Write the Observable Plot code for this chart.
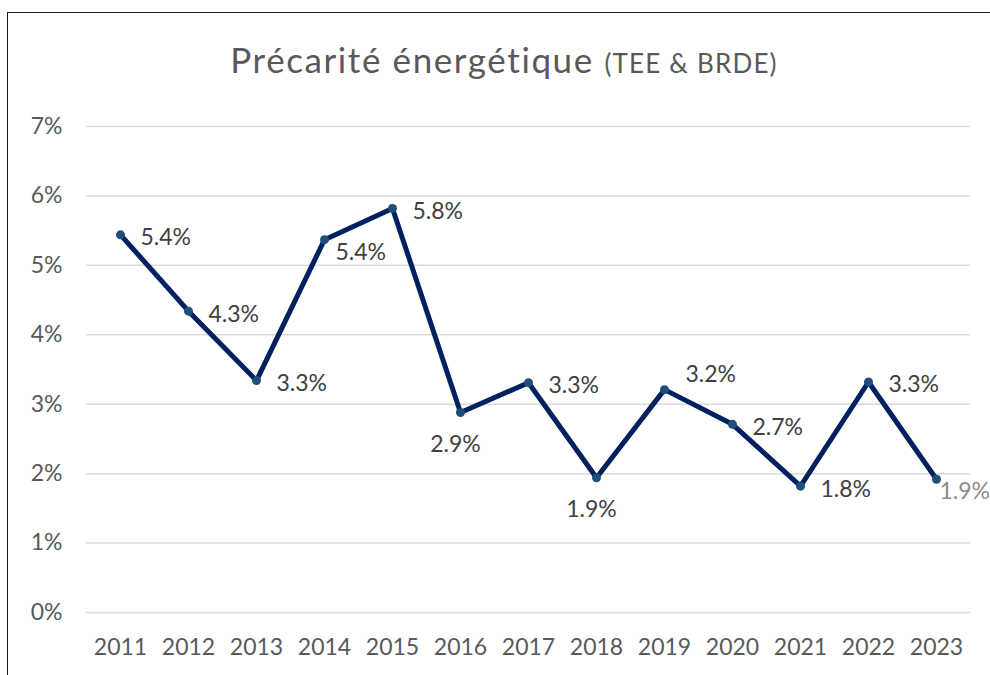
<!DOCTYPE html>
<html>
<head>
<meta charset="utf-8">
<script src="https://cdn.jsdelivr.net/npm/d3@7"></script>
<script src="https://cdn.jsdelivr.net/npm/@observablehq/plot@0.6"></script>
<style>
  html, body { margin: 0; padding: 0; background: #fff; width: 990px; height: 675px; overflow: hidden; }
  #frame { position: absolute; left: 7px; top: 12px; width: 1100px; height: 800px;
           border-left: 1px solid #1a1a1a; border-top: 1px solid #1a1a1a; pointer-events: none; }
  #title { height: 100px; box-sizing: border-box; padding-top: 38px; padding-left: 18px;
           width: 990px; text-align: center; font-family: Lato, sans-serif; color: #595959;
           font-size: 35px; letter-spacing: 1.6px; line-height: 42px; white-space: nowrap; }
  #title .sub { font-size: 26px; letter-spacing: 1.2px; }
  #chart svg { display: block; }
</style>
</head>
<body>
<div id="title">Précarité énergétique <span class="sub">(TEE &amp; BRDE)</span></div>
<div id="chart"></div>
<div id="frame"></div>
<script>
// ---- data ----
const years = ["2011","2012","2013","2014","2015","2016","2017","2018","2019","2020","2021","2022","2023"];
const values = [5.44, 4.34, 3.34, 5.37, 5.82, 2.88, 3.31, 1.94, 3.21, 2.71, 1.82, 3.32, 1.92]; // percent
const yTicks = [0, 1, 2, 3, 4, 5, 6, 7];

const data = years.map((y, i) => ({year: y, value: values[i], label: values[i].toFixed(1) + "%"}));

// label placement groups (layout, not data)
const below = new Set(["2016", "2018"]);
const belowRight = new Set(["2014"]);
const aboveRight = new Set(["2019"]);
const lastYear = years[years.length - 1];
const isRight = d => !below.has(d.year) && !belowRight.has(d.year) && !aboveRight.has(d.year) && d.year !== lastYear;

const labelFill = "#404040";
const fontSize = 23;

const chart = Plot.plot({
  width: 990,
  height: 575,
  marginTop: 26,
  marginBottom: 63,
  marginLeft: 86,
  marginRight: 20,
  style: {fontFamily: "Lato, sans-serif", color: "#595959", background: "transparent"},
  x: {type: "point", domain: years, padding: 0.5, label: null},
  y: {domain: [0, 7], label: null},
  marks: [
    Plot.gridY(yTicks, {stroke: "#d9d9d9", strokeOpacity: 1, strokeWidth: 1.5}),
    Plot.axisY(yTicks, {tickSize: 0, tickPadding: 24, fontSize, tickFormat: d => d + "%", label: null}),
    Plot.axisX({tickSize: 0, tickPadding: 26, fontSize, label: null}),
    Plot.line(data, {x: "year", y: "value", stroke: "#002060", strokeWidth: 5, strokeLinejoin: "miter", strokeLinecap: "butt"}),
    Plot.dot(data, {x: "year", y: "value", r: 4.5, fill: "#1f4e79", stroke: "none"}),
    Plot.text(data, {filter: isRight, x: "year", y: "value", text: "label", textAnchor: "start", dx: 20, dy: 3, fontSize, fill: labelFill}),
    Plot.text(data, {filter: d => below.has(d.year), x: "year", y: "value", text: "label", textAnchor: "middle", dx: -5, dy: 32, fontSize, fill: labelFill}),
    Plot.text(data, {filter: d => belowRight.has(d.year), x: "year", y: "value", text: "label", textAnchor: "start", dx: 11, dy: 13, fontSize, fill: labelFill}),
    Plot.text(data, {filter: d => aboveRight.has(d.year), x: "year", y: "value", text: "label", textAnchor: "start", dx: 21, dy: -15, fontSize, fill: labelFill}),
    Plot.text(data, {filter: d => d.year === lastYear, x: "year", y: "value", text: "label", textAnchor: "start", dx: 3, dy: 12, fontSize, fill: "#8c8c8c"})
  ]
});
document.getElementById("chart").appendChild(chart);
</script>
</body>
</html>
